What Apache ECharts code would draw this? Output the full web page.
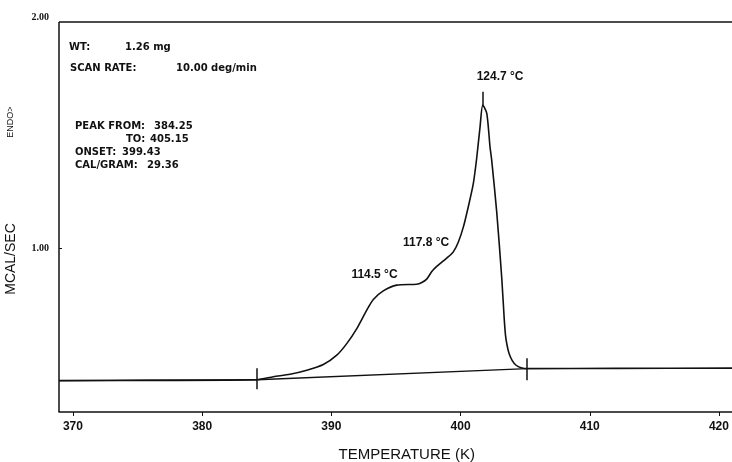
<!DOCTYPE html>
<html>
<head>
<meta charset="utf-8">
<script src="https://cdn.jsdelivr.net/npm/echarts@6/dist/echarts.min.js"></script>
<style>html,body{margin:0;padding:0;background:#fff;}#c{width:732px;height:462px;}</style>
</head>
<body>
<div id="c"></div>
<script>
// ---- data ----
const tempK = [368.92, 376.0, 384.25, 385.51, 386.80, 388.10, 389.38, 390.42, 391.19, 391.97, 392.74, 393.25, 394.02, 395.06, 396.61, 397.0, 397.38, 397.79, 398.18, 398.93, 399.44, 399.83, 400.22, 400.60, 400.99, 401.25, 401.51, 401.72, 402.03, 402.28, 402.41, 402.80, 403.19, 403.37, 403.48, 403.60, 403.75, 403.99, 404.30, 404.68, 405.20, 412.0, 421.01];
const signal = [0.427, 0.428, 0.431, 0.444, 0.4545, 0.472, 0.4965, 0.537, 0.587, 0.652, 0.732, 0.778, 0.815, 0.840, 0.844, 0.8515, 0.866, 0.900, 0.922, 0.957, 0.984, 1.027, 1.092, 1.179, 1.280, 1.390, 1.525, 1.619, 1.583, 1.4385, 1.381, 1.156, 0.870, 0.703, 0.623, 0.580, 0.5455, 0.515, 0.4935, 0.483, 0.479, 0.480, 0.481];
const baselineK = [384.25, 405.15];
const baselineV = [0.431, 0.479];
const tickMarksK = [384.25, 405.15];
const tickMarksLow = [0.3896, 0.4286];
const tickMarksHigh = [0.4805, 0.5238];
const peakK = 401.72, peakV = 1.619, peakTopV = 1.677;
const annText = ['124.7 °C', '117.8 °C', '114.5 °C'];
const annK = [403.06, 397.33, 393.34];
const annV = [1.740, 1.0216, 0.8874];
const xTicks = [370, 380, 390, 400, 410, 420];
const yTicks = [1, 2];
const xRange = [368.92, 421.01];
const yRange = [0.2913, 2.0];
const infoLabels = ['WT:', 'SCAN RATE:', 'PEAK FROM:', 'TO:', 'ONSET:', 'CAL/GRAM:'];
const infoValues = ['1.26 mg', '10.00 deg/min', '384.25', '405.15', '399.43', '29.36'];

// ---- chart ----
const chart = echarts.init(document.getElementById('c'), null, {renderer: 'canvas'});
const curve = tempK.map((k, i) => [k, signal[i]]);
const base = baselineK.map((k, i) => [k, baselineV[i]]);
const segs = tickMarksK.map((k, i) => [{coord: [k, tickMarksLow[i]]}, {coord: [k, tickMarksHigh[i]]}]);
segs.push([{coord: [peakK, peakV]}, {coord: [peakK, peakTopV]}]);
const anns = annText.map((t, i) => ({coord: [annK[i], annV[i]], value: t}));

const infoX = [69, 70, 75, 126, 75, 75];
const infoY = [47, 68, 126, 139, 152, 165];
const valX = [125, 176, 154, 150, 122, 147];
const txt = {fontFamily: 'DejaVu Sans', fontWeight: 'bold', fontSize: 10, fill: '#111'};
const graphics = [];
infoLabels.forEach((l, i) => {
  graphics.push({type: 'text', x: infoX[i], y: infoY[i], style: Object.assign({text: l, verticalAlign: 'middle'}, txt)});
  graphics.push({type: 'text', x: valX[i], y: infoY[i], style: Object.assign({text: infoValues[i], verticalAlign: 'middle'}, txt)});
});
graphics.push({type: 'line', shape: {x1: 59, y1: 22, x2: 732, y2: 22}, style: {stroke: '#111', lineWidth: 1.5}});
graphics.push({type: 'line', shape: {x1: 59, y1: 22, x2: 59, y2: 412}, style: {stroke: '#111', lineWidth: 1.5}});
graphics.push({type: 'text', x: 406.7, y: 455, style: {text: 'TEMPERATURE (K)', fontFamily: 'Liberation Sans', fontSize: 15, fill: '#111', align: 'center', verticalAlign: 'middle'}});
graphics.push({type: 'text', x: 11, y: 259, rotation: Math.PI / 2, style: {text: 'MCAL/SEC', fontFamily: 'Liberation Sans', fontSize: 14, fill: '#111', align: 'center', verticalAlign: 'middle'}});
graphics.push({type: 'text', x: 11, y: 122, rotation: Math.PI / 2, style: {text: 'ENDO>', fontFamily: 'Liberation Sans', fontSize: 9, fill: '#111', align: 'center', verticalAlign: 'middle'}});

chart.setOption({
  animation: false,
  backgroundColor: '#fff',
  grid: {left: 59, right: 0, top: 17, bottom: 50, containLabel: false},
  xAxis: {
    type: 'value', min: xRange[0], max: xRange[1],
    axisLine: {show: true, lineStyle: {color: '#111', width: 1.5}},
    axisTick: {show: true, length: 4, customValues: xTicks, lineStyle: {color: '#111', width: 1}},
    axisLabel: {customValues: xTicks, margin: 9, color: '#111', fontFamily: 'Liberation Sans', fontWeight: 'bold', fontSize: 12},
    splitLine: {show: false}
  },
  yAxis: {
    type: 'value', min: yRange[0], max: yRange[1],
    axisLine: {show: false},
    axisTick: {show: true, inside: true, length: 3, customValues: [yTicks[0]], lineStyle: {color: '#111'}},
    axisLabel: {customValues: yTicks, margin: 10, color: '#111', fontFamily: 'Liberation Serif', fontWeight: 'bold', fontSize: 10,
      formatter: v => v.toFixed(2)},
    splitLine: {show: false}
  },
  series: [
    {
      type: 'line', data: curve, smooth: 0.25, showSymbol: false, symbol: 'none',
      lineStyle: {color: '#111', width: 1.6},
      markPoint: {
        symbol: 'rect', symbolSize: 0,
        label: {show: true, position: 'inside', color: '#111', fontFamily: 'Liberation Sans', fontWeight: 'bold', fontSize: 12,
          formatter: p => p.value},
        data: anns
      }
    },
    {
      type: 'line', data: base, showSymbol: false, symbol: 'none',
      lineStyle: {color: '#111', width: 1.4},
      markLine: {
        symbol: ['none', 'none'], silent: true,
        label: {show: false},
        lineStyle: {color: '#111', width: 1.5, type: 'solid'},
        data: segs
      }
    },
    {
      type: 'line', data: [[xRange[0], 0.427], [384.25, 0.431]], showSymbol: false, symbol: 'none',
      lineStyle: {color: '#111', width: 1.4}
    }
  ],
  graphic: graphics
});
</script>
</body>
</html>
